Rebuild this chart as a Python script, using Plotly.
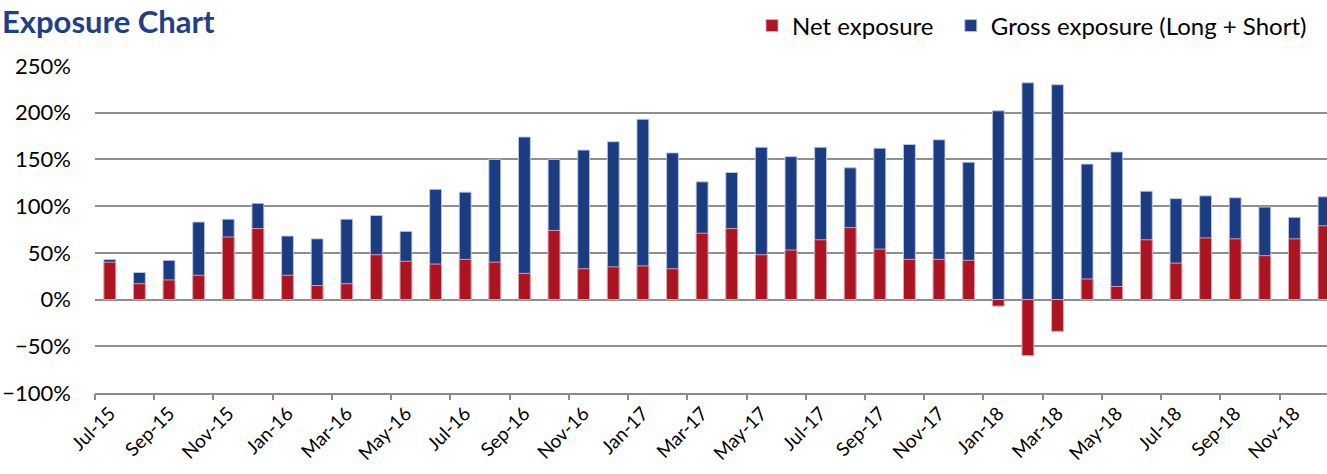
import plotly.graph_objects as go

months = ["Jul-15","Aug-15","Sep-15","Oct-15","Nov-15","Dec-15",
          "Jan-16","Feb-16","Mar-16","Apr-16","May-16","Jun-16",
          "Jul-16","Aug-16","Sep-16","Oct-16","Nov-16","Dec-16",
          "Jan-17","Feb-17","Mar-17","Apr-17","May-17","Jun-17",
          "Jul-17","Aug-17","Sep-17","Oct-17","Nov-17","Dec-17",
          "Jan-18","Feb-18","Mar-18","Apr-18","May-18","Jun-18",
          "Jul-18","Aug-18","Sep-18","Oct-18","Nov-18","Dec-18"]

net_exposure = [40, 17, 21, 26, 67, 76,
                26, 15, 17, 48, 41, 38,
                43, 40, 28, 74, 33, 35,
                36, 33, 71, 76, 48, 53,
                64, 77, 54, 43, 43, 42,
                -7, -60, -34, 22, 14, 64,
                39, 66, 65, 47, 65, 79]

gross_exposure = [43, 29, 42, 83, 86, 103,
                  68, 65, 86, 90, 73, 118,
                  115, 150, 174, 150, 160, 169,
                  193, 157, 126, 136, 163, 153,
                  163, 141, 162, 166, 171, 147,
                  202, 232, 230, 145, 158, 116,
                  108, 111, 109, 99, 88, 110]

x_idx = list(range(len(months)))
label_vals = x_idx[::2]
label_text = months[::2]
boundary_ticks = [i - 0.5 for i in x_idx[::2]]

RED = "#AD1421"
BLUE = "#1C3C82"
FONT = "Lato, 'Open Sans', sans-serif"

L, R, T, B = 95, 0, 66, 81
PW, PH = 1327 - L - R, 474 - T - B

def px_x(p):
    return (p - L) / PW

def px_y(p):
    return (474 - B - p) / PH

fig = go.Figure()
fig.add_trace(go.Bar(
    x=x_idx, y=gross_exposure, name="Gross exposure (Long + Short)",
    marker=dict(color=BLUE, line=dict(color="rgba(190,200,225,0.9)", width=1)),
    width=0.4,
))
fig.add_trace(go.Bar(
    x=x_idx, y=net_exposure, name="Net exposure&nbsp;&nbsp;",
    marker=dict(color=RED, line=dict(color="rgba(230,170,175,0.9)", width=1)),
    width=0.4,
))
fig.add_trace(go.Scatter(x=[x_idx[0]], y=[0], xaxis="x2", mode="markers",
                         marker=dict(opacity=0), showlegend=False, hoverinfo="skip"))

fig.update_layout(
    width=1327, height=474,
    barmode="overlay",
    plot_bgcolor="white", paper_bgcolor="white",
    margin=dict(l=L, r=R, t=T, b=B, autoexpand=False),
    font=dict(family=FONT, size=17, color="#000000"),
    showlegend=True,
    legend=dict(orientation="h", traceorder="reversed",
                x=px_x(1312), xanchor="right", y=px_y(26), yanchor="middle",
                font=dict(size=24, family=FONT), itemwidth=30,
                bgcolor="rgba(0,0,0,0)"),
    xaxis=dict(range=[-0.5, 41.1], tickmode="array", tickvals=label_vals,
               ticktext=label_text, tickangle=-45, ticks="",
               showgrid=False, zeroline=False,
               showline=True, linecolor="#8C8C8C", linewidth=2,
               tickfont=dict(size=19, family=FONT)),
    xaxis2=dict(range=[-0.5, 41.1], overlaying="x", anchor="y", side="bottom",
                tickmode="array", tickvals=boundary_ticks, ticks="outside",
                ticklen=6, tickwidth=1.5, tickcolor="#8C8C8C",
                showticklabels=False, showgrid=False, zeroline=False, showline=False),
    yaxis=dict(range=[-100, 250], dtick=50, ticksuffix="%",
               showgrid=True, gridcolor="#8F8F8F", gridwidth=1.5,
               zeroline=True, zerolinecolor="#8F8F8F", zerolinewidth=1.5,
               showline=False, ticks="", ticklabelstandoff=23,
               tickfont=dict(size=22, family=FONT)),
    annotations=[dict(text="<b>Exposure Chart</b>", xref="paper", yref="paper",
                      x=px_x(1), y=px_y(0.5), xanchor="left", yanchor="top",
                      borderpad=0,
                      showarrow=False, font=dict(size=31, color="#1F3F88", family=FONT))],
)

fig.write_html("out.html", config={"displayModeBar": False},
               post_script="document.body.style.margin='0';")
